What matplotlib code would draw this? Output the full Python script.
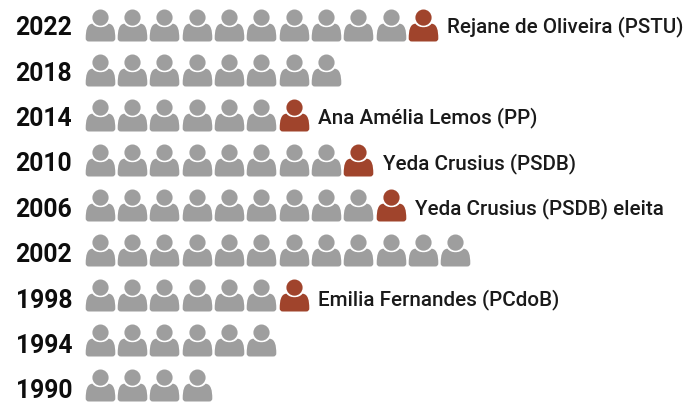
import matplotlib
matplotlib.use('Agg')
import matplotlib.pyplot as plt
import numpy as np
from matplotlib.path import Path

years = ['2022', '2018', '2014', '2010', '2006', '2002', '1998', '1994', '1990']
men = [10, 8, 6, 8, 9, 12, 6, 6, 4]
women = [1, 0, 1, 1, 1, 0, 1, 0, 0]
names = ['Rejane de Oliveira (PSTU)', '', 'Ana Amélia Lemos (PP)', 'Yeda Crusius (PSDB)',
         'Yeda Crusius (PSDB) eleita', '', 'Emilia Fernandes (PCdoB)', '', '']

GREY = '#9e9e9e'
RED = '#a0442c'
W, H = 686, 403
X0, DX = 99.8, 32.3
Y0, DY = 24.9, 45.0
TEXT_Y0, TEXT_DY = 28.2, 45.4


def person():
    # head + body, in pixels around the centre of the icon
    cy, r = 7.9, 8.1
    k = 0.5523 * r
    verts = [(0, cy + r), (k, cy + r), (r, cy + k), (r, cy),
             (r, cy - k), (k, cy - r), (0, cy - r),
             (-k, cy - r), (-r, cy - k), (-r, cy),
             (-r, cy + k), (-k, cy + r), (0, cy + r), (0, cy + r)]
    codes = [Path.MOVETO] + [Path.CURVE4] * 12 + [Path.CLOSEPOLY]
    body = [(-14.8, -13), (-14.8, -16), (-11.8, -16), (-11.8, -16),
            (11.8, -16), (14.8, -16), (14.8, -13), (14.8, -13),
            (14.8, -5), (13.5, 1.6), (8, 1.8),
            (6, -0.8), (3, -1.7), (0, -1.7),
            (-3, -1.7), (-6, -0.8), (-8, 1.8),
            (-13.5, 1.6), (-14.8, -5), (-14.8, -13), (-14.8, -13)]
    bcodes = [Path.MOVETO, Path.CURVE3, Path.CURVE3, Path.LINETO,
              Path.LINETO, Path.CURVE3, Path.CURVE3, Path.LINETO,
              Path.CURVE4, Path.CURVE4, Path.CURVE4,
              Path.CURVE4, Path.CURVE4, Path.CURVE4,
              Path.CURVE4, Path.CURVE4, Path.CURVE4,
              Path.CURVE4, Path.CURVE4, Path.CURVE4, Path.CLOSEPOLY]
    return Path(verts + body, codes + bcodes)


fig = plt.figure(figsize=(W / 100, H / 100), dpi=100)
ax = fig.add_axes([0, 0, 1, 1])
ax.set_xlim(-X0 / DX, (W - X0) / DX)
ax.set_ylim((H - Y0) / DY, -Y0 / DY)
ax.axis('off')

marker = person()
# marker box is 2*16 px tall, size in points^2
size = (32 * 0.72) ** 2

for row, year in enumerate(years):
    xs = np.arange(men[row])
    text_y = (TEXT_Y0 + TEXT_DY * row - Y0) / DY
    ax.scatter(xs, [row] * men[row], marker=marker, s=size, c=GREY, linewidths=0)
    if women[row]:
        ax.scatter([men[row]], [row], marker=marker, s=size, c=RED, linewidths=0)
        ax.text(men[row] + 0.76, text_y - 0.03, names[row], family='Roboto', weight='medium',
                fontsize=14.85, color='#1a1a1a', va='center', ha='left')
    ax.text((15.5 - X0) / DX, text_y, year, family='Roboto', weight='bold',
            fontsize=17.8, color='#0d0d0d', va='center', ha='left')

fig.savefig('out.png', dpi=100)
